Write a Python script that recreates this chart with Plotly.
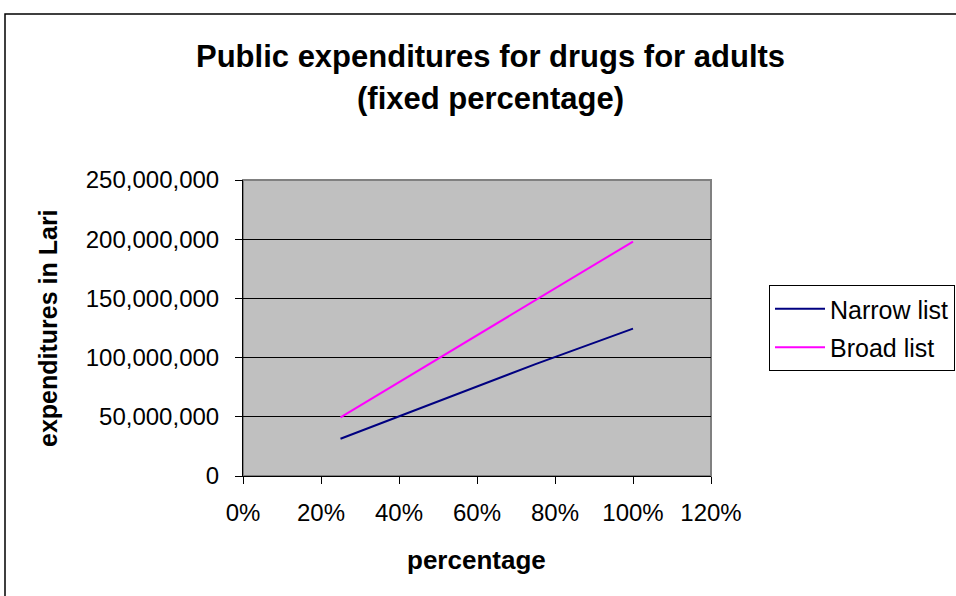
import plotly.graph_objects as go

percentages = [0.25, 0.50, 0.75, 1.00]
narrow_list = [31500000, 63000000, 94500000, 124500000]
broad_list = [49500000, 99000000, 148500000, 198000000]
series_names = ["Narrow list", "Broad list"]
title_lines = ["Public expenditures for drugs for adults", "(fixed percentage)"]
x_title = "percentage"
y_title = "expenditures in Lari"

W, H = 956, 596
L, R, T, B = 243, 711, 180, 476
pw, ph = R - L, B - T

def px(x):
    return (x - L) / pw

def py(y):
    return (B - y) / ph

font = "Liberation Sans, Arial, sans-serif"

fig = go.Figure()
fig.add_trace(go.Scatter(x=percentages, y=narrow_list, mode="lines", name=series_names[0],
                         line=dict(color="#000080", width=2), legendgroup="a"))
fig.add_trace(go.Scatter(x=percentages, y=broad_list, mode="lines", name=series_names[1],
                         line=dict(color="#FF00FF", width=2), legendgroup="b"))

fig.update_layout(
    width=W, height=H,
    margin=dict(l=L, r=W - R, t=T, b=H - B, autoexpand=False),
    paper_bgcolor="white",
    plot_bgcolor="#C0C0C0",
    font=dict(family=font, size=24, color="black"),
    showlegend=True,
    legend=dict(x=px(769), y=py(285), xanchor="left", yanchor="top",
                bgcolor="white", bordercolor="black", borderwidth=1,
                font=dict(size=25), tracegroupgap=3, traceorder="grouped",
                itemwidth=50),
    xaxis=dict(range=[0, 1.2], dtick=0.2, tick0=0, tickformat=".0%",
               showgrid=False, zeroline=False, showline=True, linecolor="black",
               linewidth=1, ticks="outside", ticklen=7, tickcolor="black",
               tickwidth=1, tickfont=dict(size=24), ticklabelstandoff=8),
    yaxis=dict(range=[0, 250000000], dtick=50000000, tick0=0, tickformat=",",
               showgrid=True, gridcolor="black", gridwidth=1, zeroline=False,
               showline=True, linecolor="black", linewidth=1, ticks="outside",
               ticklen=7, tickwidth=1, tickcolor="black", tickfont=dict(size=24),
               ticklabelstandoff=11),
)

# plot area border (gray, top/right)
fig.add_shape(type="rect", xref="paper", yref="paper", x0=0, x1=1, y0=0, y1=1,
              line=dict(color="#808080", width=2), layer="below")
# outer chart frame
fig.add_shape(type="rect", xref="paper", yref="paper",
              x0=px(5), x1=px(W + 20), y0=py(H + 20), y1=py(14),
              line=dict(color="black", width=1.5))

fig.add_annotation(text="<b>%s</b>" % title_lines[0], xref="paper", yref="paper",
                   x=px(490), y=py(56), showarrow=False, font=dict(size=31),
                   xanchor="center", yanchor="middle")
fig.add_annotation(text="<b>%s</b>" % title_lines[1], xref="paper", yref="paper",
                   x=px(490), y=py(99), showarrow=False, font=dict(size=31),
                   xanchor="center", yanchor="middle")
fig.add_annotation(text="<b>%s</b>" % x_title, xref="paper", yref="paper",
                   x=px(476), y=py(560), showarrow=False, font=dict(size=26),
                   xanchor="center", yanchor="middle")
fig.add_annotation(text="<b>%s</b>" % y_title, xref="paper", yref="paper",
                   x=px(48), y=py(328), showarrow=False, font=dict(size=25),
                   textangle=-90, xanchor="center", yanchor="middle")

fig.write_html("out.html")
